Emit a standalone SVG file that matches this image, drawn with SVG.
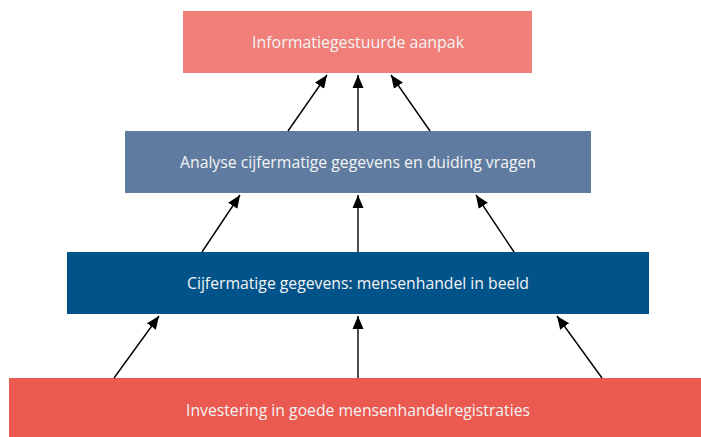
<svg xmlns="http://www.w3.org/2000/svg" width="701" height="437" viewBox="0 0 701 437">
<style>
.lbl{font-family:"Open Sans","Noto Sans","Liberation Sans",sans-serif;font-size:16px;fill:#f4f4f4;text-anchor:middle;dominant-baseline:central}
.c{stroke:#000;stroke-width:1.4;fill:none;marker-end:url(#ah)}
</style>
<defs>
<marker id="ah" markerUnits="userSpaceOnUse" markerWidth="14" markerHeight="14" viewBox="0 0 14 14" refX="13" refY="7" orient="auto">
<path d="M0,1.5 L13,7 L0,12.5 Z" fill="#000"/>
</marker>
</defs>
<rect width="701" height="437" fill="#fff"/>
<g id="n1"><rect x="183" y="11" width="349" height="62" fill="#EF7F78"/><text class="lbl" x="358" y="42" textLength="212" lengthAdjust="spacingAndGlyphs">Informatiegestuurde aanpak</text></g>
<g id="n2"><rect x="125" y="131" width="466" height="62" fill="#5F7CA0"/><text class="lbl" x="358" y="162" textLength="356" lengthAdjust="spacingAndGlyphs">Analyse cijfermatige gegevens en duiding vragen</text></g>
<g id="n3"><rect x="67" y="252" width="582" height="62" fill="#02538A"/><text class="lbl" x="358" y="283" textLength="342" lengthAdjust="spacingAndGlyphs">Cijfermatige gegevens: mensenhandel in beeld</text></g>
<g id="n4"><rect x="9" y="378" width="692" height="59" fill="#EA5A50"/><text class="lbl" x="358" y="410" textLength="344" lengthAdjust="spacingAndGlyphs">Investering in goede mensenhandelregistraties</text></g>
<g id="connectors">
<line class="c" x1="288" y1="131" x2="327" y2="75"/>
<line class="c" x1="358" y1="131" x2="358" y2="75"/>
<line class="c" x1="430" y1="131" x2="391" y2="75"/>
<line class="c" x1="202" y1="252" x2="240" y2="195"/>
<line class="c" x1="358" y1="252" x2="358" y2="195"/>
<line class="c" x1="514" y1="252" x2="476" y2="195"/>
<line class="c" x1="114" y1="378" x2="159" y2="316"/>
<line class="c" x1="358" y1="378" x2="358" y2="316"/>
<line class="c" x1="602" y1="378" x2="557" y2="316"/>
</g>
</svg>
